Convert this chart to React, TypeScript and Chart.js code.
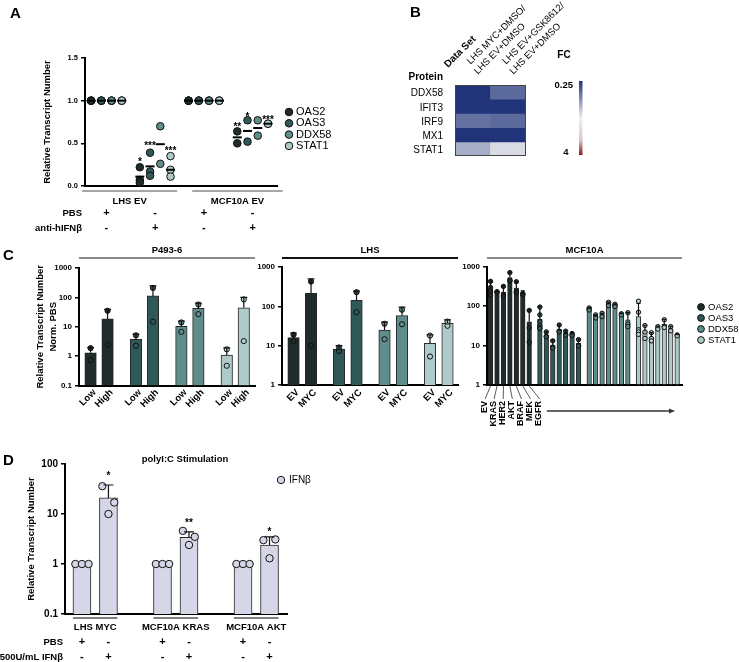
import React, { useEffect, useRef } from 'react';
import { Chart, registerables } from 'chart.js';

Chart.register(...registerables);

const CW = 739;
const CH = 662;
const FONT = "'Liberation Sans', Arial, Helvetica, sans-serif";

// ================= shared =================
const GENES = ['OAS2', 'OAS3', 'DDX58', 'STAT1'];
const GENE_COLORS = ['#1f2c2c', '#2f5858', '#5f8d8b', '#afcbc9'];

// ================= Panel A =================
const A_GROUP_LABELS = ['LHS EV', 'MCF10A EV'];
const A_ROW_LABELS = ['PBS', 'anti-hIFNβ'];
const A_PBS_SIGNS = ['+', '-', '+', '-'];
const A_ANTI_SIGNS = ['-', '+', '-', '+'];
const A_Y_TICKS = [0, 0.5, 1.0, 1.5];
const A_OAS2_PTS = [[1, 1, 1], [0.22, 0.07, 0.04], [1, 1, 1], [0.64, 0.5]];
const A_OAS3_PTS = [[1, 1, 1], [0.39, 0.17, 0.12], [1, 1, 1], [0.77, 0.52]];
const A_DDX58_PTS = [[1, 1, 1], [0.7, 0.26], [1, 1, 1], [0.77, 0.59]];
const A_STAT1_PTS = [[1, 1, 1], [0.35, 0.19, 0.11], [1, 1, 1], [0.73, 0.73]];
const A_OAS2_MEAN = [1, 0.11, 1, 0.57];
const A_OAS3_MEAN = [1, 0.23, 1, 0.645];
const A_DDX58_MEAN = [1, 0.49, 1, 0.68];
const A_STAT1_MEAN = [1, 0.19, 1, 0.73];
const A_STAR_TEXT = ['*', '***', '***', '**', '*', '***'];
const A_STAR_GROUP = [1, 1, 1, 3, 3, 3];
const A_STAR_GENE = [0, 1, 3, 0, 1, 3];
const A_STAR_Y = [0.31, 0.5, 0.44, 0.72, 0.84, 0.8];

// ================= Panel B =================
const B_ROWS = ['DDX58', 'IFIT3', 'IRF9', 'MX1', 'STAT1'];
const B_COL_HEADERS = [['LHS MYC+DMSO/', 'LHS EV+DMSO'], ['LHS EV+GSK8612/', 'LHS EV+DMSO']];
const B_FC_COL1 = [0.25, 0.25, 0.39, 0.25, 0.61];
const B_FC_COL2 = [0.37, 0.25, 0.37, 0.25, 0.85];
const B_SCALE_LABELS = ['0.25', '4'];

// ================= Panel C =================
const C1_TICKS = ['Low', 'High'];
const C1_LOW = [1.3, 3.7, 10.3, 1.08];
const C1_HIGH = [18.5, 112, 42, 44];
const C1_LOW_ERR = [1.97, 5.6, 15.6, 1.9];
const C1_HIGH_ERR = [39, 245, 64, 100];
const C1_LOW_PTS = [[0.73, 1.87], [2.25, 5.1], [6.7, 14], [0.47, 1.7]];
const C1_HIGH_PTS = [[2.5, 35], [14.8, 210], [27, 57], [3.25, 85]];

const C2_TICKS = ['EV', 'MYC'];
const C2_EV = [16, 8.2, 25, 11.5];
const C2_MYC = [215, 143, 58, 37];
const C2_EV_ERR = [21, 10, 39.5, 18.7];
const C2_MYC_ERR = [500, 245, 95, 45];
const C2_EV_PTS = [[13.2, 19], [7.3, 9], [14.6, 36], [5.3, 18]];
const C2_MYC_PTS = [[425, 10], [229, 71], [35, 82], [32, 41]];

const C3_LINES = ['EV', 'KRAS', 'HER2', 'AKT', 'BRAF', 'MEK', 'EGFR'];
const C3_OAS2 = [290, 230, 230, 540, 290, 203, 40];
const C3_OAS2_ERR = [445, 235, 335, 745, 425, 245, 80];
const C3_OAS2_PTS = [[430, 300, 240, 190], [235, 225], [320, 190, 180], [720, 450, 450], [420, 230, 220], [210, 200, 198], [78, 28, 12]];
const C3_OAS3 = [47, 18.4, 10.2, 26, 20, 19, 11.2];
const C3_OAS3_ERR = [98, 22, 13.6, 34.5, 23.6, 21, 14.5];
const C3_OAS3_PTS = [[95, 60, 40, 32, 28, 27], [22, 17, 16.5], [13, 9, 8.5], [33, 23, 22], [23, 19, 18], [20, 18], [14, 10, 9.6]];
const C3_DDX58 = [84, 54, 60, 112, 104, 62, 44.5];
const C3_DDX58_ERR = [92, 60, 66, 126, 112, 65, 69];
const C3_DDX58_PTS = [[90, 82, 80], [60, 52, 50], [66, 54], [125, 108, 103], [112, 102, 98], [64, 60], [68, 35, 30]];
const C3_STAT1 = [54, 23, 16.3, 28, 34.5, 26.7, 18];
const C3_STAT1_ERR = [117, 32.6, 21, 31, 46, 31, 19];
const C3_STAT1_PTS = [[134, 70, 25, 22, 19], [32, 22, 15], [21, 15, 13], [30, 26], [45, 30, 28.5], [30, 23.4], [18.5, 17.5]];

// ================= Panel D =================
const D_GROUPS = ['LHS MYC', 'MCF10A KRAS', 'MCF10A AKT'];
const D_PBS_MEAN = [1, 1, 1];
const D_IFN_MEAN = [21, 3.4, 2.4];
const D_IFN_ERR = [38, 4.4, 3.5];
const D_PBS_PTS = [[1, 1, 1], [1, 1, 1], [1, 1, 1]];
const D_IFN_PTS = [[36, 17, 10], [4.6, 3.5, 2.4], [3.0, 3.1, 1.3]];
const D_STARS = ['*', '**', '*'];
const D_STAR_Y = [66, 7.3, 5.0];
const D_PBS_SIGNS = ['+', '-'];
const D_IFN_SIGNS = ['-', '+'];
const D_LEGEND = 'IFNβ';
const D_COLOR = '#d5d7e9';

// ================= helpers =================
function txt(ctx: any, s: string, x: number, y: number, o: any) {
  ctx.save();
  ctx.font = `${o.bold ? 'bold ' : ''}${o.size}px ${FONT}`;
  ctx.fillStyle = o.color || '#000';
  ctx.textAlign = o.align || 'center';
  ctx.textBaseline = o.base || 'middle';
  ctx.translate(x, y);
  if (o.rot) ctx.rotate(o.rot);
  ctx.fillText(s, 0, 0);
  ctx.restore();
}
function seg(ctx: any, x1: number, y1: number, x2: number, y2: number, color: string, lw: number) {
  ctx.save();
  ctx.strokeStyle = color;
  ctx.lineWidth = lw;
  ctx.beginPath();
  ctx.moveTo(x1, y1);
  ctx.lineTo(x2, y2);
  ctx.stroke();
  ctx.restore();
}
function dot(ctx: any, x: number, y: number, r: number, fill: string) {
  ctx.save();
  ctx.fillStyle = fill;
  ctx.strokeStyle = '#111';
  ctx.lineWidth = 1;
  ctx.beginPath();
  ctx.arc(x, y, r, 0, Math.PI * 2);
  ctx.fill();
  ctx.stroke();
  ctx.restore();
}
function star(ctx: any, s: string, x: number, y: number, size: number) {
  txt(ctx, s, x, y + size * 0.56, { size, bold: true, base: 'alphabetic' });
}
function fcColor(fc: number) {
  const t = Math.max(-1, Math.min(1, Math.log(fc) / Math.log(4)));
  const white = [240, 240, 242];
  const blue = [33, 52, 122];
  const red = [125, 28, 28];
  const end = t < 0 ? blue : red;
  const f = Math.abs(t);
  const c = white.map((w, i) => Math.round(w + (end[i] - w) * f));
  return `rgb(${c.join(',')})`;
}

const xAxis = (min: number, max: number) => ({
  type: 'linear',
  min,
  max,
  offset: false,
  afterFit: (s: any) => { s.height = 0; },
  ticks: { display: false },
  grid: { display: false },
  border: { display: true, color: '#000', width: 2 },
});

const yAxisBase = (width: number, tickSize: number, title: any) => ({
  afterFit: (s: any) => { s.width = width; },
  ticks: { color: '#000', font: { family: FONT, size: tickSize, weight: 'bold' }, padding: 3, autoSkip: false },
  grid: { display: true, drawOnChartArea: false, drawTicks: true, tickLength: 4, color: '#000', lineWidth: 1.5 },
  border: { display: true, color: '#000', width: 2 },
  title: title
    ? { display: true, text: title.text, color: '#000', padding: 0, font: { family: FONT, size: 9.5, weight: 'bold', lineHeight: title.lh } }
    : { display: false },
});

const logAxis = (min: number, max: number, width: number, tickSize: number, title: any) => ({
  type: 'logarithmic',
  min,
  max,
  ...yAxisBase(width, tickSize, title),
  afterBuildTicks: (s: any) => {
    const t: any[] = [];
    for (let v = min; v <= max * 1.0001; v *= 10) t.push({ value: +v.toPrecision(3) });
    s.ticks = t;
  },
  ticks: { ...yAxisBase(width, tickSize, title).ticks, callback: (v: any) => String(+Number(v).toPrecision(3)) },
});

const basePlugins = { legend: { display: false }, tooltip: { enabled: false } };

function padFor(box: number[], yWidth: number) {
  return { left: box[0] - yWidth, top: box[1], right: CW - box[2], bottom: CH - box[3] };
}

// ================= Panel A config =================
const A_CENTERS = [2, 7, 12, 17];
const A_STEP = 1.05;
const A_SPANS = [[-0.5, 9.25], [10.8, 20.1]];
const aX = (g: number, k: number) => A_CENTERS[g] + (k - 1.5) * A_STEP;

function makeA() {
  const ptsByGene = [A_OAS2_PTS, A_OAS3_PTS, A_DDX58_PTS, A_STAT1_PTS];
  const meanByGene = [A_OAS2_MEAN, A_OAS3_MEAN, A_DDX58_MEAN, A_STAT1_MEAN];
  const datasets: any[] = [];
  GENES.forEach((gene, k) => {
    datasets.push({
      label: gene + ' mean',
      data: meanByGene[k].map((m, g) => ({ x: aX(g, k), y: m })),
      pointStyle: 'line',
      pointRadius: 4.5,
      borderColor: '#000',
      borderWidth: 2,
      order: 0,
    });
    const pts: any[] = [];
    ptsByGene[k].forEach((arr, g) => arr.forEach((v) => pts.push({ x: aX(g, k), y: v })));
    datasets.push({
      label: gene,
      data: pts,
      backgroundColor: GENE_COLORS[k],
      borderColor: '#111',
      borderWidth: 1,
      pointRadius: 3.8,
      order: 1,
    });
  });
  const box = [85, 58, 277, 186];
  const yW = 43.7;
  const plugin = {
    id: 'annA',
    afterDraw(chart: any) {
      const { ctx, scales } = chart;
      const x = scales.x;
      const y = scales.y;
      txt(ctx, 'A', 10, 14, { size: 15, bold: true, align: 'left' });
      A_GROUP_LABELS.forEach((lab, i) => {
        const l = x.getPixelForValue(A_SPANS[i][0]);
        const r = x.getPixelForValue(A_SPANS[i][1]);
        seg(ctx, l, 191, r, 191, '#8a8a8a', 1.5);
        txt(ctx, lab, (l + r) / 2, 201, { size: 9.5, bold: true });
      });
      txt(ctx, A_ROW_LABELS[0], 82, 213, { size: 9.5, bold: true, align: 'right' });
      txt(ctx, A_ROW_LABELS[1], 82, 228, { size: 9.5, bold: true, align: 'right' });
      A_CENTERS.forEach((c, g) => {
        const px = x.getPixelForValue(c);
        txt(ctx, A_PBS_SIGNS[g], px, 213, { size: 11, bold: true });
        txt(ctx, A_ANTI_SIGNS[g], px, 228, { size: 11, bold: true });
      });
      A_STAR_TEXT.forEach((s, i) => {
        star(ctx, s, x.getPixelForValue(aX(A_STAR_GROUP[i], A_STAR_GENE[i])), y.getPixelForValue(A_STAR_Y[i]), 10);
      });
      GENES.forEach((gene, k) => {
        const yy = 112 + k * 11.3;
        dot(ctx, 289, yy, 3.8, GENE_COLORS[k]);
        txt(ctx, gene, 296, yy, { size: 11, align: 'left' });
      });
    },
  };
  return {
    type: 'scatter',
    data: { datasets },
    options: {
      responsive: false,
      animation: false,
      devicePixelRatio: 1,
      layout: { padding: padFor(box, yW) },
      scales: {
        x: xAxis(-0.2, 19.5),
        y: {
          type: 'linear',
          min: 0,
          max: 1.5,
          ...yAxisBase(yW, 7.5, { text: 'Relative Transcript Number', lh: 1.2 }),
          afterBuildTicks: (s: any) => { s.ticks = A_Y_TICKS.map((v) => ({ value: v })); },
          ticks: { ...yAxisBase(yW, 7.5, null).ticks, callback: (v: any) => Number(v).toFixed(1) },
        },
      },
      plugins: basePlugins,
    },
    plugins: [plugin],
  };
}

// ================= Panel B config =================
function makeB() {
  const box = [455, 85, 526, 156];
  const plugin = {
    id: 'annB',
    afterDraw(chart: any) {
      const { ctx, chartArea: ca, scales } = chart;
      const x = scales.x;
      const y = scales.y;
      txt(ctx, 'B', 410, 13, { size: 15, bold: true, align: 'left' });
      ctx.save();
      ctx.strokeStyle = '#444';
      ctx.lineWidth = 1;
      ctx.strokeRect(ca.left + 0.5, ca.top + 0.5, ca.right - ca.left - 1, ca.bottom - ca.top - 1);
      ctx.restore();
      B_ROWS.forEach((r, i) => txt(ctx, r, 443, y.getPixelForValue(i + 0.5) + 1.5, { size: 10, align: 'right' }));
      txt(ctx, 'Protein', 443, 77, { size: 10, bold: true, align: 'right' });
      txt(ctx, 'Data Set', 446, 66, { size: 10, bold: true, align: 'left', rot: -Math.PI / 4 });
      B_COL_HEADERS.forEach((lines, c) => {
        const cx = x.getPixelForValue(c);
        ctx.save();
        ctx.translate(cx - 4, 63);
        ctx.rotate(-Math.PI / 4);
        ctx.font = `9.5px ${FONT}`;
        ctx.fillStyle = '#000';
        ctx.textAlign = 'left';
        ctx.textBaseline = 'middle';
        lines.forEach((ln, j) => ctx.fillText(ln, j * -2, j * 12));
        ctx.restore();
      });
      txt(ctx, 'FC', 564, 55, { size: 10, bold: true });
      const g = ctx.createLinearGradient(0, 81, 0, 155);
      g.addColorStop(0, fcColor(0.25));
      g.addColorStop(0.5, fcColor(1));
      g.addColorStop(0.8, fcColor(1.3));
      g.addColorStop(1, fcColor(4));
      ctx.save();
      ctx.fillStyle = g;
      ctx.fillRect(579, 81, 3.5, 74);
      ctx.restore();
      txt(ctx, B_SCALE_LABELS[0], 573, 85, { size: 9.5, bold: true, align: 'right' });
      txt(ctx, B_SCALE_LABELS[1], 566, 152, { size: 9.5, bold: true });
    },
  };
  return {
    type: 'bar',
    data: {
      labels: ['c1', 'c2'],
      datasets: B_ROWS.map((r, i) => ({
        label: r,
        data: [1, 1],
        backgroundColor: [fcColor(B_FC_COL1[i]), fcColor(B_FC_COL2[i])],
        borderWidth: 0,
        barPercentage: 1,
        categoryPercentage: 1,
      })),
    },
    options: {
      responsive: false,
      animation: false,
      devicePixelRatio: 1,
      layout: { padding: padFor(box, 0) },
      scales: {
        x: { display: false, stacked: true },
        y: { display: false, stacked: true, min: 0, max: 5, reverse: true },
      },
      plugins: basePlugins,
    },
    plugins: [plugin],
  };
}

// ================= generic bar chart =================
function barConfig(o: any) {
  const datasets: any[] = [];
  o.series.forEach((s: any) => {
    datasets.push({
      type: 'bar',
      data: s.xs.map((xv: number, i: number) => ({ x: xv, y: s.means[i] })),
      backgroundColor: s.color,
      borderColor: '#262626',
      borderWidth: 1,
      barThickness: o.barThickness,
      grouped: false,
      order: 2,
      errTops: s.errs,
    });
    const pts: any[] = [];
    s.pts.forEach((arr: number[], i: number) =>
      arr.forEach((v, j) => pts.push({ x: s.xs[i] + o.jitter(i, j, arr.length), y: v }))
    );
    datasets.push({
      type: 'scatter',
      data: pts,
      backgroundColor: s.pointColor || s.color,
      borderColor: '#111',
      borderWidth: 1,
      pointRadius: o.pointRadius,
      order: 1,
    });
  });
  const errPlugin = {
    id: 'err',
    afterDatasetsDraw(chart: any) {
      const { ctx } = chart;
      const y = chart.scales.y;
      chart.data.datasets.forEach((ds: any, di: number) => {
        if (!ds.errTops) return;
        const meta = chart.getDatasetMeta(di);
        meta.data.forEach((bar: any, i: number) => {
          const e = ds.errTops[i];
          if (e == null) return;
          const yt = y.getPixelForValue(e);
          const w = bar.width * o.capRatio;
          ctx.save();
          ctx.strokeStyle = '#111';
          ctx.lineWidth = 1.2;
          ctx.beginPath();
          ctx.moveTo(bar.x, bar.y);
          ctx.lineTo(bar.x, yt);
          ctx.moveTo(bar.x - w / 2, yt);
          ctx.lineTo(bar.x + w / 2, yt);
          ctx.stroke();
          ctx.restore();
        });
      });
    },
  };
  const annPlugin = { id: 'ann', afterDraw: o.draw };
  return {
    type: 'bar',
    data: { datasets },
    options: {
      responsive: false,
      animation: false,
      devicePixelRatio: 1,
      layout: { padding: padFor(o.box, o.yWidth) },
      scales: {
        x: xAxis(o.xMin, o.xMax),
        y: logAxis(o.yMin, o.yMax, o.yWidth, o.tickSize, o.title),
      },
      plugins: basePlugins,
    },
    plugins: [errPlugin, annPlugin],
  };
}

function header(ctx: any, ca: any, label: string, color: string) {
  seg(ctx, ca.left, 258, ca.right, 258, color, 2);
  txt(ctx, label, (ca.left + ca.right) / 2, 250, { size: 9.5, bold: true });
}

// ================= C1 =================
const c1Pos = (g: number, k: number) => g * 2.67 + k;
function makeC1() {
  const series = GENES.map((gene, g) => ({
    color: GENE_COLORS[g],
    means: [C1_LOW[g], C1_HIGH[g]],
    errs: [C1_LOW_ERR[g], C1_HIGH_ERR[g]],
    pts: [C1_LOW_PTS[g], C1_HIGH_PTS[g]],
    xs: [c1Pos(g, 0), c1Pos(g, 1)],
  }));
  return barConfig({
    box: [79, 268, 255, 385.5],
    yMin: 0.1,
    yMax: 1000,
    yWidth: 45.5,
    tickSize: 8,
    title: { text: ['Relative Transcript Number', 'Norm. PBS'], lh: 1.37 },
    xMin: -0.68,
    xMax: 9.67,
    barThickness: 11.5,
    pointRadius: 2.6,
    capRatio: 0.6,
    jitter: () => 0,
    series,
    draw(chart: any) {
      const { ctx, chartArea: ca } = chart;
      const x = chart.scales.x;
      txt(ctx, 'C', 3, 256, { size: 15, bold: true, align: 'left' });
      header(ctx, ca, 'P493-6', '#8c8c8c');
      GENES.forEach((gene, g) => C1_TICKS.forEach((t, k) => {
        txt(ctx, t, x.getPixelForValue(c1Pos(g, k)) + 4, 391, { size: 9.5, bold: true, align: 'right', rot: -Math.PI / 4 });
      }));
    },
  });
}

// ================= C2 =================
const c2Pos = (g: number, k: number) => g * 2.6 + k;
function makeC2() {
  const series = GENES.map((gene, g) => ({
    color: GENE_COLORS[g],
    means: [C2_EV[g], C2_MYC[g]],
    errs: [C2_EV_ERR[g], C2_MYC_ERR[g]],
    pts: [C2_EV_PTS[g], C2_MYC_PTS[g]],
    xs: [c2Pos(g, 0), c2Pos(g, 1)],
  }));
  return barConfig({
    box: [282, 267, 458, 385],
    yMin: 1,
    yMax: 1000,
    yWidth: 30,
    tickSize: 8,
    title: null,
    xMin: -0.66,
    xMax: 9.4,
    barThickness: 11.5,
    pointRadius: 2.6,
    capRatio: 0.6,
    jitter: () => 0,
    series,
    draw(chart: any) {
      const { ctx, chartArea: ca } = chart;
      const x = chart.scales.x;
      header(ctx, ca, 'LHS', '#111');
      GENES.forEach((gene, g) => C2_TICKS.forEach((t, k) => {
        txt(ctx, t, x.getPixelForValue(c2Pos(g, k)) + 4, 391, { size: 9.5, bold: true, align: 'right', rot: -Math.PI / 4 });
      }));
    },
  });
}

// ================= C3 =================
const c3Pos = (g: number, k: number) => g * 7.65 + k;
function makeC3() {
  const means = [C3_OAS2, C3_OAS3, C3_DDX58, C3_STAT1];
  const errs = [C3_OAS2_ERR, C3_OAS3_ERR, C3_DDX58_ERR, C3_STAT1_ERR];
  const pts = [C3_OAS2_PTS, C3_OAS3_PTS, C3_DDX58_PTS, C3_STAT1_PTS];
  const series = GENES.map((gene, g) => ({
    color: GENE_COLORS[g],
    means: means[g],
    errs: errs[g],
    pts: pts[g],
    xs: C3_LINES.map((l, k) => c3Pos(g, k)),
  }));
  return barConfig({
    box: [487, 267, 682, 384.5],
    yMin: 1,
    yMax: 1000,
    yWidth: 30,
    tickSize: 8,
    title: null,
    xMin: -0.55,
    xMax: 29.7,
    barThickness: 4.6,
    pointRadius: 2.2,
    capRatio: 0.9,
    jitter: () => 0,
    series,
    draw(chart: any) {
      const { ctx, chartArea: ca } = chart;
      const x = chart.scales.x;
      header(ctx, ca, 'MCF10A', '#8c8c8c');
      const b0 = x.getPixelForValue(c3Pos(0, 0));
      C3_LINES.forEach((name, k) => {
        const bx = x.getPixelForValue(c3Pos(0, k));
        const lx = b0 - 6.5 + k * 9.1;
        seg(ctx, bx, 386, lx + 1, 399, '#333', 0.8);
        txt(ctx, name, lx, 401, { size: 9, bold: true, align: 'right', rot: -Math.PI / 2 });
      });
      const ax0 = x.getPixelForValue(c3Pos(1, 0)) + 7;
      const ax1 = ca.right - 7;
      seg(ctx, ax0, 411, ax1 - 3, 411, '#333', 1.3);
      ctx.save();
      ctx.fillStyle = '#333';
      ctx.beginPath();
      ctx.moveTo(ax1, 411);
      ctx.lineTo(ax1 - 6, 408.5);
      ctx.lineTo(ax1 - 6, 413.5);
      ctx.closePath();
      ctx.fill();
      ctx.restore();
      GENES.forEach((gene, k) => {
        const yy = 307 + k * 11;
        dot(ctx, 701, yy, 3.4, GENE_COLORS[k]);
        txt(ctx, gene, 708, yy, { size: 9.5, align: 'left' });
      });
    },
  });
}

// ================= D =================
const dPos = (g: number, k: number) => g * 3.04 + k;
const D_JIT_PBS = [-0.25, 0, 0.25];
const D_JIT_IFN = [-0.23, 0.22, 0];
function makeD() {
  const means: number[] = [];
  const errs: any[] = [];
  const pts: number[][] = [];
  const xs: number[] = [];
  D_GROUPS.forEach((grp, g) => {
    means.push(D_PBS_MEAN[g], D_IFN_MEAN[g]);
    errs.push(null, D_IFN_ERR[g]);
    pts.push(D_PBS_PTS[g], D_IFN_PTS[g]);
    xs.push(dPos(g, 0), dPos(g, 1));
  });
  return barConfig({
    box: [65, 464, 287, 614],
    yMin: 0.1,
    yMax: 100,
    yWidth: 39.7,
    tickSize: 10,
    title: { text: 'Relative Transcript Number', lh: 1.2 },
    xMin: -0.64,
    xMax: 7.74,
    barThickness: 18,
    pointRadius: 3.7,
    capRatio: 0.55,
    jitter: (i: number, j: number) => (i % 2 === 0 ? D_JIT_PBS[j] : D_JIT_IFN[j]),
    series: [{ color: D_COLOR, means, errs, pts, xs }],
    draw(chart: any) {
      const { ctx } = chart;
      const x = chart.scales.x;
      const y = chart.scales.y;
      txt(ctx, 'D', 3, 461, { size: 15, bold: true, align: 'left' });
      txt(ctx, 'polyI:C Stimulation', 185, 459, { size: 9.5, bold: true });
      dot(ctx, 281, 480, 3.7, D_COLOR);
      txt(ctx, D_LEGEND, 289, 480, { size: 10, align: 'left' });
      txt(ctx, 'PBS', 63, 642, { size: 9.5, bold: true, align: 'right' });
      txt(ctx, '500U/mL IFNβ', 63, 657, { size: 9.5, bold: true, align: 'right' });
      D_GROUPS.forEach((grp, g) => {
        const p0 = x.getPixelForValue(dPos(g, 0));
        const p1 = x.getPixelForValue(dPos(g, 1));
        seg(ctx, p0 - 9, 618, p1 + 9, 618, '#555', 1.5);
        txt(ctx, grp, (p0 + p1) / 2, 627, { size: 9.5, bold: true });
        txt(ctx, D_PBS_SIGNS[0], p0, 642, { size: 11, bold: true });
        txt(ctx, D_PBS_SIGNS[1], p1, 642, { size: 11, bold: true });
        txt(ctx, D_IFN_SIGNS[0], p0, 657, { size: 11, bold: true });
        txt(ctx, D_IFN_SIGNS[1], p1, 657, { size: 11, bold: true });
        star(ctx, D_STARS[g], p1, y.getPixelForValue(D_STAR_Y[g]), 10);
      });
    },
  });
}

// ================= React =================
function ChartLayer({ make }: { make: () => any }) {
  const ref = useRef<HTMLCanvasElement | null>(null);
  useEffect(() => {
    const chart = new Chart(ref.current as HTMLCanvasElement, make());
    return () => chart.destroy();
  }, []);
  return (
    <canvas
      ref={ref}
      width={CW}
      height={CH}
      style={{ position: 'absolute', left: 0, top: 0, width: CW, height: CH, pointerEvents: 'none' }}
    />
  );
}

export default function App() {
  return (
    <div style={{ position: 'absolute', left: 0, top: 0, width: CW, height: CH, background: '#fff', overflow: 'hidden' }}>
      <ChartLayer make={makeA} />
      <ChartLayer make={makeB} />
      <ChartLayer make={makeC1} />
      <ChartLayer make={makeC2} />
      <ChartLayer make={makeC3} />
      <ChartLayer make={makeD} />
    </div>
  );
}
